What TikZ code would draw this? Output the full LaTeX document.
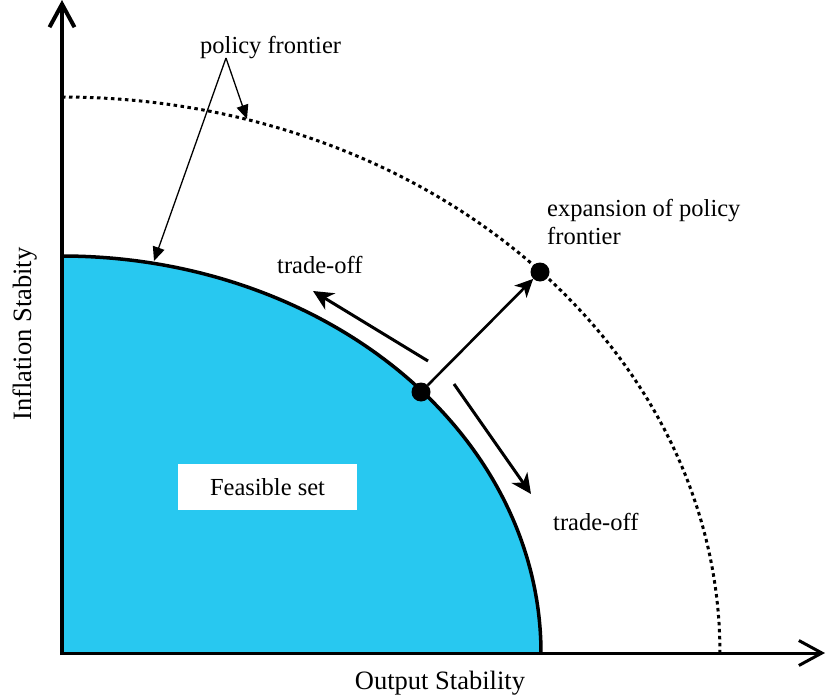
\documentclass[tikz,border=0pt]{standalone}
\usepackage{fontspec}
\setmainfont{Liberation Serif}
\usetikzlibrary{arrows.meta}
\definecolor{feas}{RGB}{40,200,240}
\begin{document}
\begin{tikzpicture}[x=1pt,y=-1pt,
  lbl/.style={font=\fontsize{24.5}{29}\selectfont, inner sep=0pt},
  axlbl/.style={font=\fontsize{26.5}{31}\selectfont, inner sep=0pt},
  axisline/.style={line width=3pt, -{Straight Barb[length=23pt,width=25pt]}},
  dotnode/.style={circle, fill=black, inner sep=0pt, minimum size=19pt},
  bigarrow/.style={line width=3pt, -{Stealth[length=20pt,width=19pt,inset=6pt]}},
  exparrow/.style={line width=2.6pt, -{Stealth[length=18pt,width=17pt,inset=5pt]}},
  thinarrow/.style={line width=1.3pt, -{Triangle[length=14pt,width=12pt]}},
  frontier/.style={line width=3.5pt},
  outerfrontier/.style={line width=3pt, dash pattern=on 3.5pt off 3.5pt},
]
\useasboundingbox (0,0) rectangle (827,698);
% feasible set
\fill[feas] (62,653) -- plot[domain=90:0, samples=150] ({62+479*cos(\x)},{653-397*sin(\x)}) -- cycle;
\draw[frontier] plot[domain=90:0, samples=150] ({62+479*cos(\x)},{653-397*sin(\x)});
% expanded frontier
\draw[outerfrontier] plot[domain=90:0, samples=200] ({62+658*cos(\x)},{653-556*sin(\x)});
% axes
\coordinate (O) at (62,653);
\coordinate (Ytop) at (62,0);
\coordinate (Xend) at (825,653);
\draw[axisline, line width=4pt] ([yshift=-2pt]O) -- (Ytop);
\draw[axisline] ([xshift=-2pt]O) -- (Xend);
% labels
\node[axlbl, anchor=base, rotate=90] (ylab) at (31,334) {Inflation Stabity};
\node[axlbl, anchor=base] (xlab) at (440,689) {Output Stability};
\node[fill=white, minimum width=179pt, minimum height=46pt, inner sep=0pt, font=\fontsize{24.5}{29}\selectfont] (fs) at (267.5,487) {Feasible set};
\node[lbl, anchor=base west] (pf) at (200,54) {policy frontier};
\node[lbl, anchor=base west] (ex1) at (547,216) {expansion of policy};
\node[lbl, anchor=base west] (ex2) at (547,244) {frontier};
\node[lbl, anchor=base west] (to1) at (277,273) {trade-off};
\node[lbl, anchor=base west] (to2) at (553,530) {trade-off};
% policy frontier arrows
\coordinate (pfo) at (226,58);
\coordinate (c1) at (154,261);
\coordinate (c2) at (247,119);
\draw[thinarrow] (pfo) -- (c1);
\draw[thinarrow] (pfo) -- (c2);
% points
\node[dotnode] (p1) at (421,392) {};
\node[dotnode] (p2) at (540,272) {};
\draw[exparrow] (p1) -- (p2);
% trade-off arrows
\coordinate (u1) at (428,361);
\coordinate (u2) at (313,291);
\coordinate (d1) at (454,384);
\coordinate (d2) at (531,494);
\draw[bigarrow] (u1) -- (u2);
\draw[bigarrow] (d1) -- (d2);
\end{tikzpicture}
\end{document}
